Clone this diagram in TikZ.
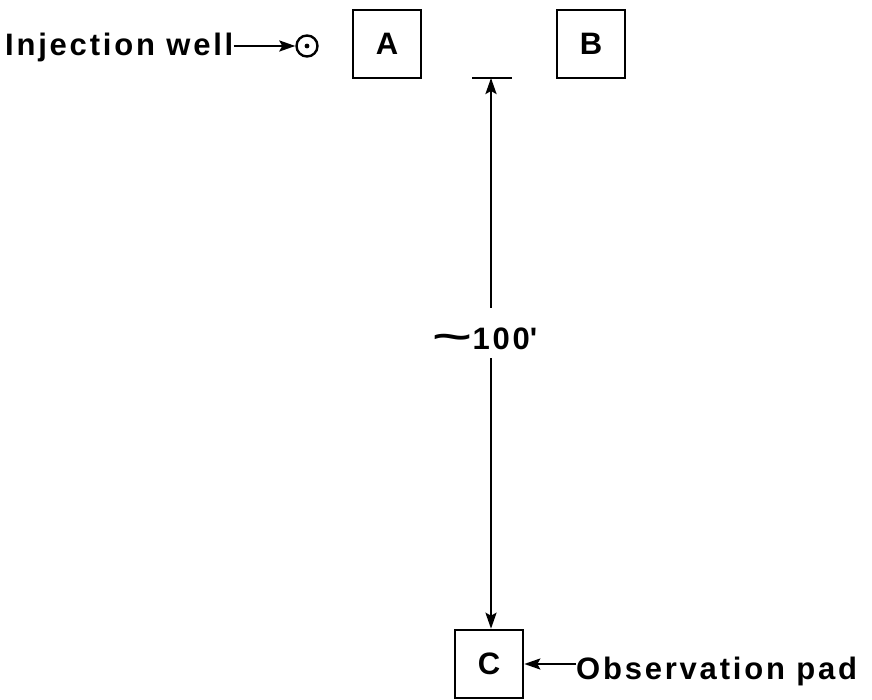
\documentclass[tikz,border=0pt]{standalone}
\usepackage{fontspec}
\setmainfont{Liberation Sans}[LetterSpace=9]
\usetikzlibrary{arrows.meta}
\begin{document}
\begin{tikzpicture}[x=1pt,y=-1pt,
  lbl/.style={font=\fontsize{31}{34}\selectfont\bfseries, inner sep=0pt},
  pad/.style={draw, line width=2.6pt, minimum size=68pt, inner sep=0pt,
    font=\fontsize{31}{34}\selectfont\bfseries},
  conn/.style={line width=2.4pt, -{Stealth[length=16pt,width=11pt,inset=3pt]}}]
\useasboundingbox (0,0) rectangle (872,700);

% well and its label
\node[lbl, anchor=base west] (inj) at (5,56) {Injection well};
\node[circle, draw, line width=2.4pt, minimum size=21pt, inner sep=0pt] (well) at (307,46) {};
\fill (well.center) circle (2.4pt);
\draw[conn] (inj.east |- well.west) -- (well.west);

% pads
\node[pad] (A) at (387,44) {A};
\node[pad] (B) at (591,44) {B};
\node[pad] (C) at (489,664) {C};

% dimension between the reference bar and pad C
\coordinate (bar) at (491,78);
\coordinate (barL) at (472,78);
\coordinate (barR) at (512,78);
\draw[line width=2.6pt] (barL) -- (barR);
\node[lbl] (dist) at (485,339) {\scalebox{2.2}[1.2]{\textasciitilde}100\textquotesingle};
\coordinate (dimtop) at (491,308);
\coordinate (dimbot) at (491,358);
\draw[conn] (dimtop) -- (bar);
\draw[conn] (dimbot) -- (C.north -| dimbot);

% pad label
\node[lbl, anchor=base west] (obs) at (576,679) {Observation pad};
\draw[conn] (obs.west |- C.east) -- (C.east);
\end{tikzpicture}
\end{document}
